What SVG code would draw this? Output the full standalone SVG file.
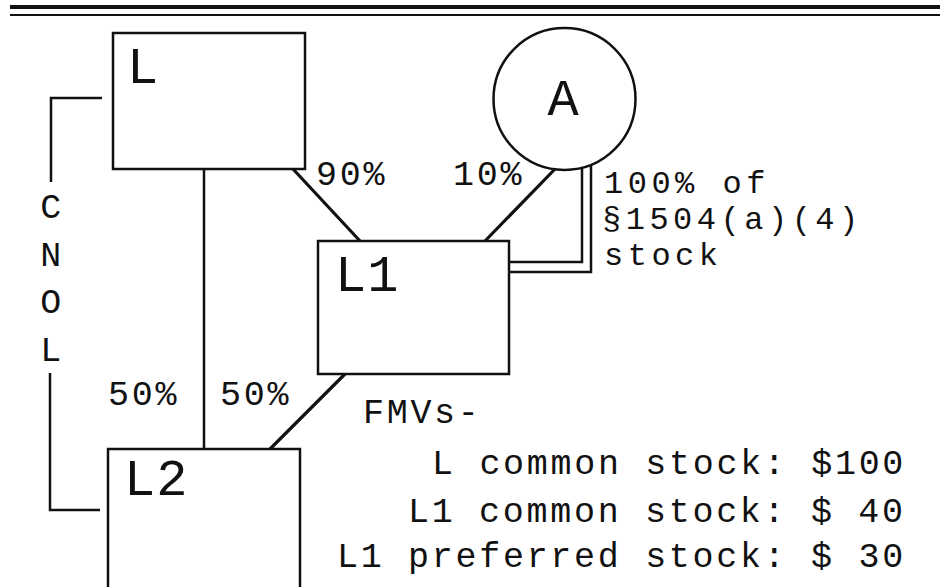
<svg xmlns="http://www.w3.org/2000/svg" width="950" height="587" viewBox="0 0 950 587">
<style>
  .box { fill: #fff; stroke: #111; stroke-width: 2.5; }
  .ln { fill: none; stroke: #111; stroke-width: 2.5; }
  .thick { fill: none; stroke: #111; stroke-width: 3.2; }
  .lbl { font-family: "Liberation Mono", "Courier New", monospace; font-size: 52px; fill: #111; }
  .txt { font-family: "Liberation Mono", "Courier New", monospace; font-size: 35px; letter-spacing: 2.7px; fill: #111; }
  .note { font-family: "Liberation Mono", "Courier New", monospace; font-size: 32px; letter-spacing: 4.5px; fill: #111; }
</style>
<rect width="950" height="587" fill="#fff"/>
<g id="rules">
  <line x1="10" y1="7" x2="940" y2="7" stroke="#111" stroke-width="4"/>
  <line x1="10" y1="15" x2="940" y2="15" stroke="#111" stroke-width="2"/>
</g>
<g id="connectors">
  <line class="ln" x1="204" y1="169" x2="204" y2="449" stroke-width="2"/>
  <line class="thick" x1="293" y1="169" x2="360" y2="241"/>
  <line class="thick" x1="555" y1="169" x2="485" y2="241"/>
  <line class="thick" x1="345" y1="374" x2="270" y2="449"/>
  <path class="ln" d="M 510 262 H 582 V 168" stroke-width="3.5"/>
  <path class="ln" d="M 510 272 H 591 V 166" stroke-width="2"/>
  <path class="ln" d="M 102 98 H 51 V 182"/>
  <path class="ln" d="M 50 373 V 510 H 100"/>
</g>
<g id="node-L">
  <rect class="box" x="113" y="33" width="192" height="136"/>
  <text class="lbl" x="127" y="83">L</text>
</g>
<g id="node-A">
  <circle cx="564.5" cy="99" r="71" fill="#fff" stroke="#111" stroke-width="2.5"/>
  <text class="lbl" x="563" y="115" text-anchor="middle">A</text>
</g>
<g id="node-L1">
  <rect class="box" x="318" y="241" width="191" height="133"/>
  <text class="lbl" x="335" y="291" letter-spacing="1">L1</text>
</g>
<g id="node-L2">
  <rect class="box" x="108" y="449" width="192" height="145"/>
  <text class="lbl" x="124" y="495" letter-spacing="1">L2</text>
</g>
<g id="labels">
  <text class="txt" x="316" y="185">90%</text>
  <text class="txt" x="453" y="185">10%</text>
  <text class="note" x="604" y="193">100% of</text>
  <text class="note" x="602" y="229">§1504(a)(4)</text>
  <text class="note" x="604" y="265">stock</text>
  <text class="txt" x="108" y="405">50%</text>
  <text class="txt" x="220" y="405">50%</text>
  <text class="txt" x="52" y="218" text-anchor="middle">C</text>
  <text class="txt" x="52" y="266" text-anchor="middle">N</text>
  <text class="txt" x="52" y="313" text-anchor="middle">O</text>
  <text class="txt" x="52" y="361" text-anchor="middle">L</text>
  <text class="txt" x="363" y="423">FMVs-</text>
  <text class="txt" x="432" y="474" xml:space="preserve">L common stock: $100</text>
  <text class="txt" x="408" y="522" xml:space="preserve">L1 common stock: $ 40</text>
  <text class="txt" x="337" y="567" xml:space="preserve">L1 preferred stock: $ 30</text>
</g>
</svg>
